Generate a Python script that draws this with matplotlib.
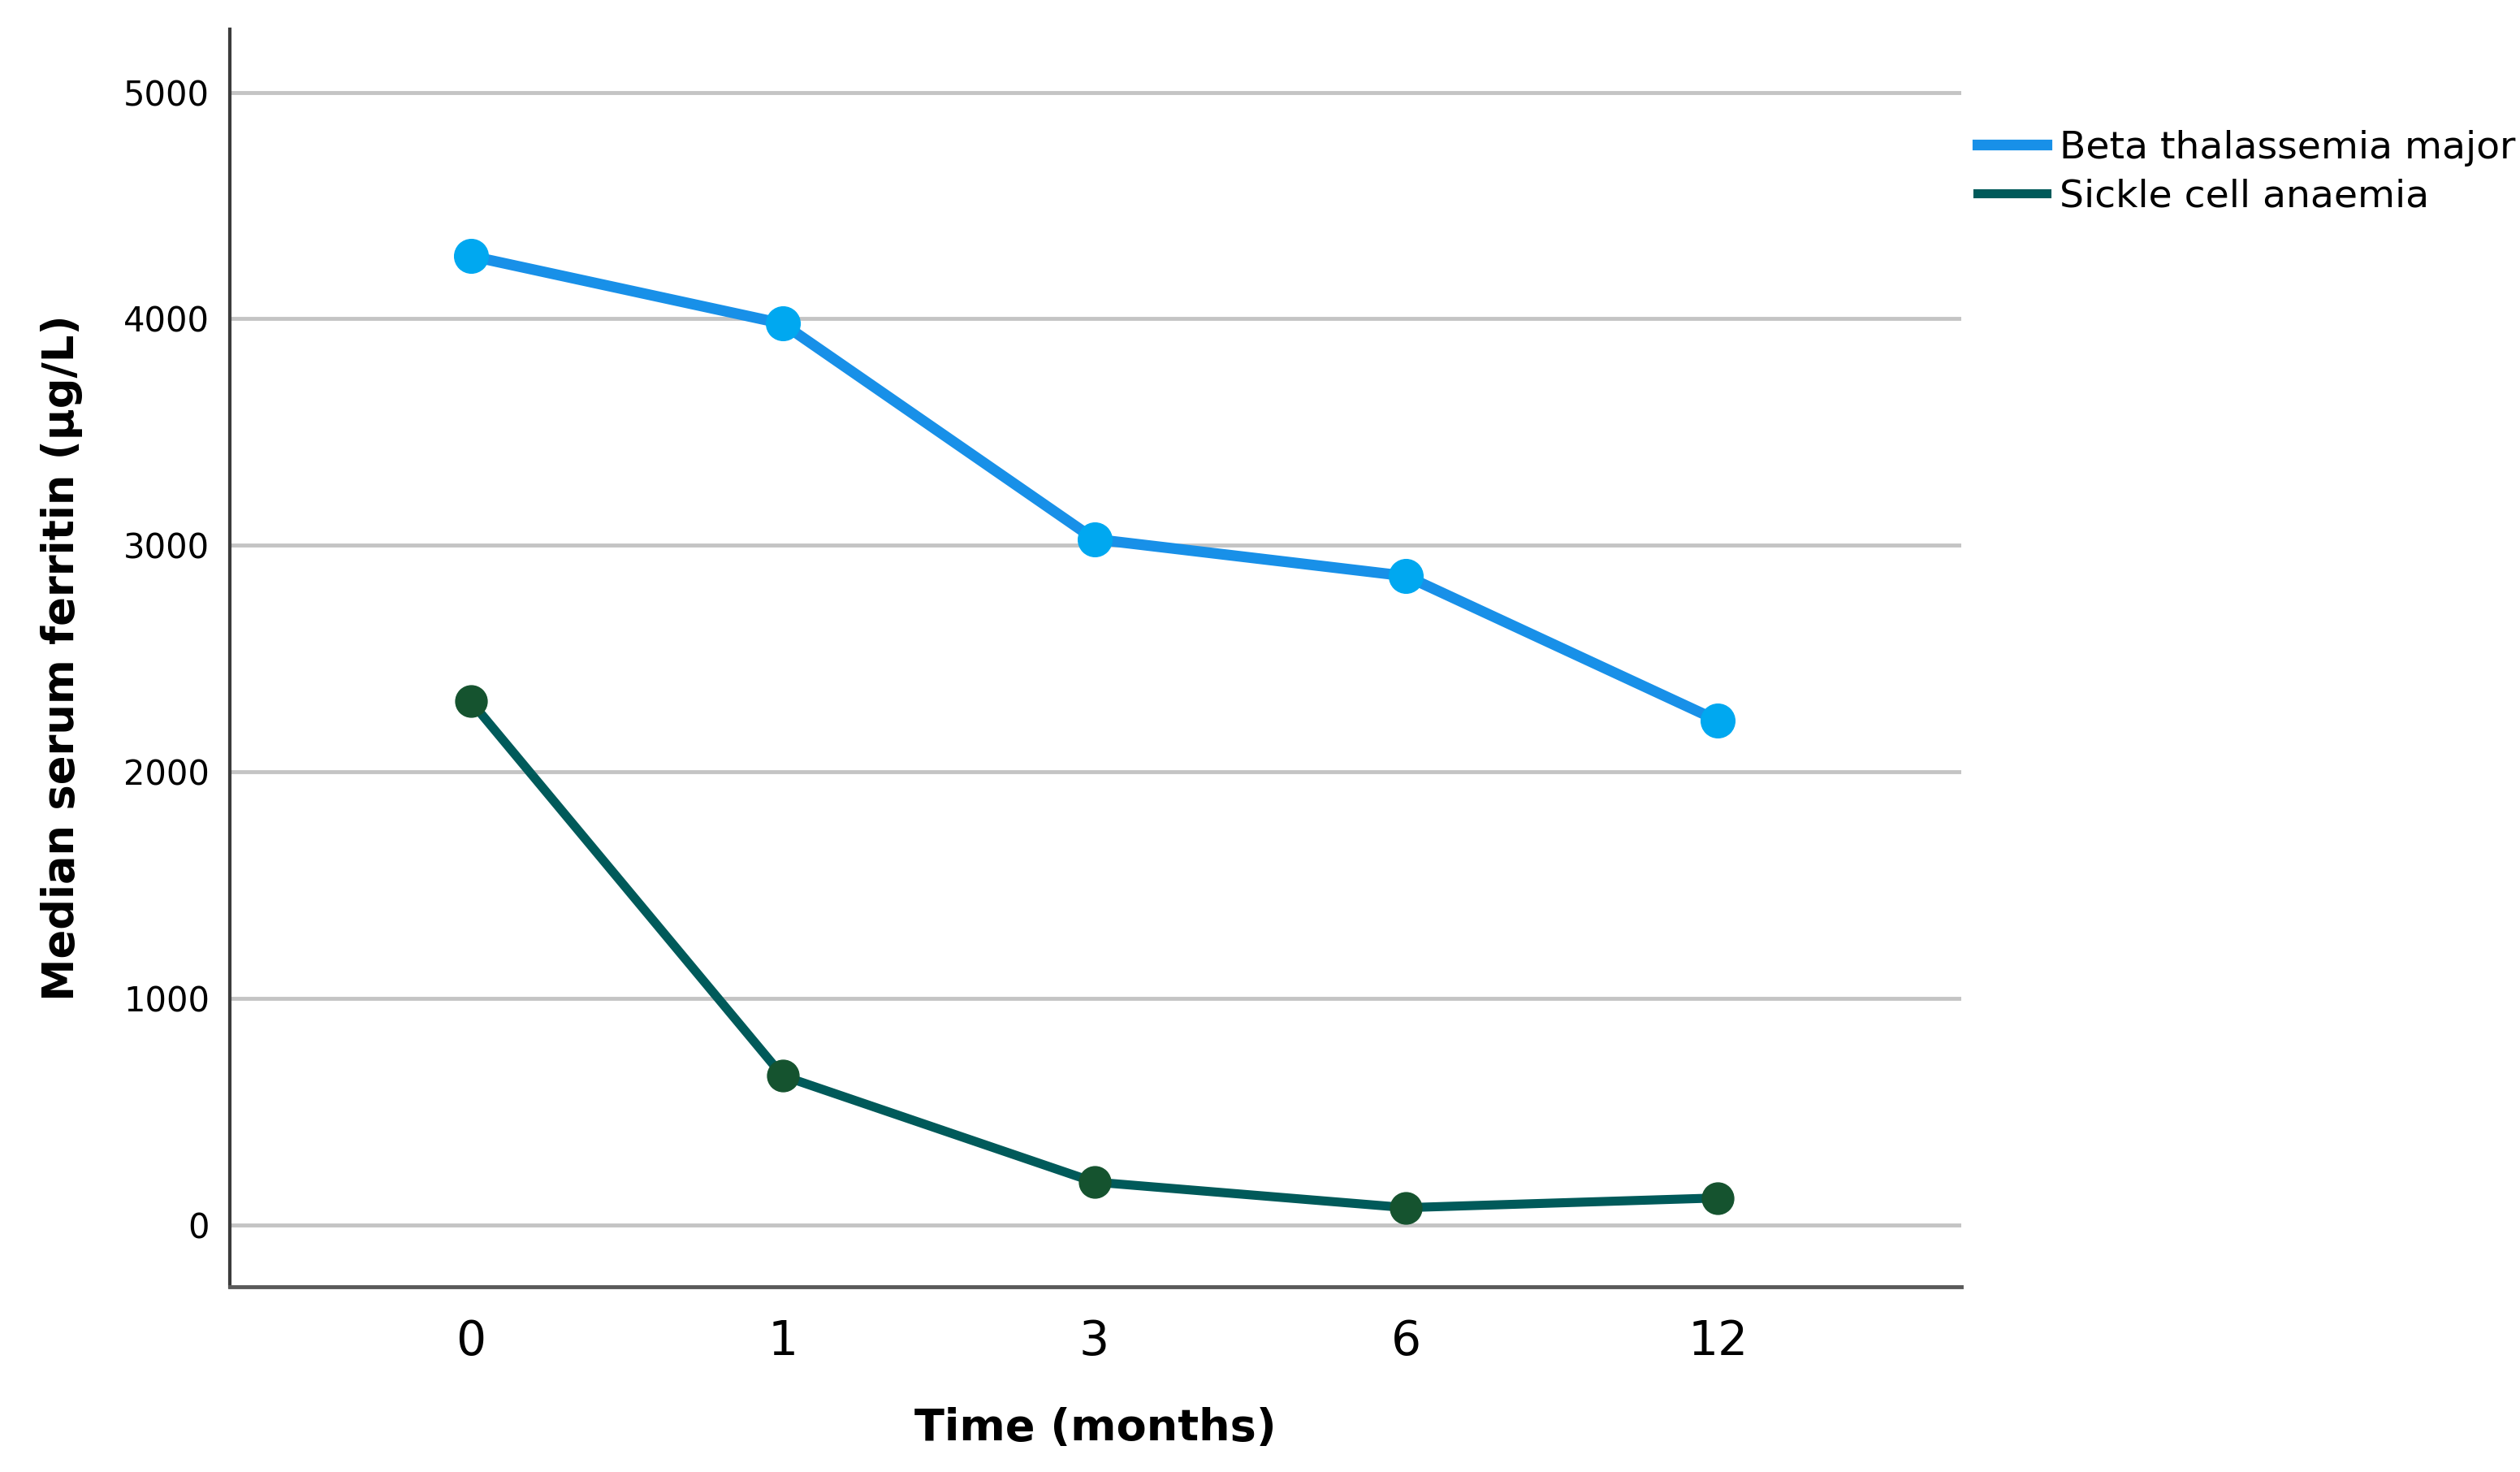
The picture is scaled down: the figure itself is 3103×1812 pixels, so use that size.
import matplotlib
matplotlib.use("Agg")
import matplotlib.pyplot as plt

# Tiempo (meses) y ferritina sérica mediana (µg/L)
meses = ["0", "1", "3", "6", "12"]
beta_talasemia = [4277, 3979, 3028, 2865, 2227]
drepanocitosis = [2312, 660, 191, 78, 121]

fig = plt.figure(figsize=(31.03, 18.12), dpi=100)
ax = fig.add_axes([0.0912, 0.126, 0.687, 0.854])

x = list(range(len(meses)))

ax.plot(x, beta_talasemia, color="#1890e8", lw=9.5, marker="o", markersize=30,
        markerfacecolor="#00a8f0", markeredgecolor="#00a8f0",
        label="Beta thalassemia major", zorder=3)
ax.plot(x, drepanocitosis, color="#005a5a", lw=8, marker="o", markersize=28,
        markerfacecolor="#15532f", markeredgecolor="#15532f",
        label="Sickle cell anaemia", zorder=3)

ax.set_xlim(-0.773, 4.78)
ax.set_ylim(-270, 5277)
ax.set_yticks([0, 1000, 2000, 3000, 4000, 5000])
ax.set_xticks(x)
ax.set_xticklabels(meses)

ax.yaxis.grid(True, color="#c4c4c4", lw=3.5)
ax.set_axisbelow(True)
for s in ["top", "right"]:
    ax.spines[s].set_visible(False)
ax.spines["left"].set_color("#3c3c3c")
ax.spines["left"].set_linewidth(3)
ax.spines["bottom"].set_color("#5a5a5a")
ax.spines["bottom"].set_linewidth(3.5)

ax.tick_params(axis="both", length=0)
ax.tick_params(axis="y", labelsize=30, pad=18)
ax.tick_params(axis="x", labelsize=42, pad=28)

ax.set_ylabel("Median serum ferritin (\u03bcg/L)", fontsize=38, fontweight="bold", labelpad=36)
ax.set_xlabel("Time (months)", fontsize=39, fontweight="bold", labelpad=38)

fig.legend(loc="upper left", bbox_to_anchor=(0.777, 0.925), frameon=False,
           fontsize=34, handlelength=1.8, handletextpad=0.35, borderpad=0,
           labelspacing=0.32)
# quitar marcadores de la leyenda
leg = fig.legends[0]
for h in leg.legend_handles:
    h.set_marker("")

fig.savefig("out.png", dpi=100)
